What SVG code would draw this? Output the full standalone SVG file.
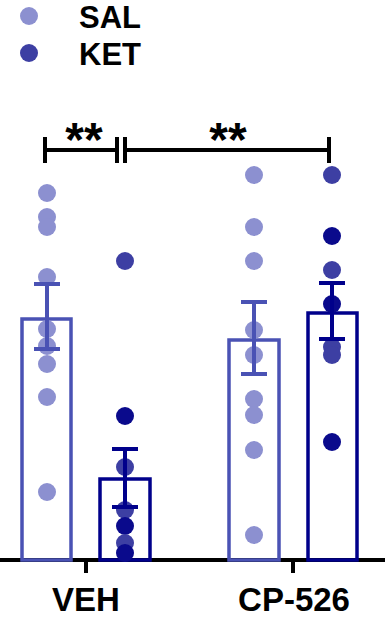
<svg xmlns="http://www.w3.org/2000/svg" width="385" height="621" viewBox="0 0 385 621">
<style>
.lbl{font-family:"Liberation Sans",Arial,sans-serif;font-weight:bold;fill:#000}
.sal{fill:#8c90d0}
.ketd{fill:#0a0a8c}
.keth{fill:#3d3fa3}
.barS{fill:none;stroke:#4a52b4;stroke-width:3.5}
.barK{fill:none;stroke:#00008b;stroke-width:3.5}
.errS{stroke:#4a52b4;stroke-width:4;fill:none}
.errK{stroke:#00008b;stroke-width:4;fill:none}
.blk{stroke:#000;stroke-width:4;fill:none}
</style>
<rect width="385" height="621" fill="#fff"/>
<g id="legend">
<circle class="sal" cx="29" cy="16" r="9"/>
<text class="lbl" x="79" y="28" font-size="31">SAL</text>
<circle class="keth" cx="29" cy="53" r="9"/>
<text class="lbl" x="79" y="65" font-size="31">KET</text>
</g>
<g id="axis">
<line class="blk" x1="0" y1="560" x2="385" y2="560" stroke-width="3.5"/>
<line class="blk" x1="86" y1="560" x2="86" y2="573" stroke-width="3"/>
<line class="blk" x1="293" y1="560" x2="293" y2="573" stroke-width="3"/>
<text class="lbl" x="86" y="611" font-size="33" text-anchor="middle">VEH</text>
<text class="lbl" x="294" y="611" font-size="33" text-anchor="middle">CP-526</text>
</g>
<g id="bar-veh-sal">
<rect class="barS" x="22" y="319" width="49" height="241"/>
<circle class="sal" cx="47" cy="193" r="9"/>
<circle class="sal" cx="47" cy="217" r="9"/>
<circle class="sal" cx="47" cy="227" r="9"/>
<circle class="sal" cx="47" cy="277" r="9"/>
<circle class="sal" cx="47" cy="329" r="9"/>
<circle class="sal" cx="47" cy="346" r="9"/>
<circle class="sal" cx="47" cy="364" r="9"/>
<circle class="sal" cx="47" cy="397" r="9"/>
<circle class="sal" cx="47" cy="492" r="9"/>
<path class="errS" d="M47 284V349M34 284H60M34 349H60"/>
</g>
<g id="bar-veh-ket">
<rect class="barK" x="100" y="479" width="50" height="81"/>
<circle class="keth" cx="125" cy="261" r="9"/>
<circle class="ketd" cx="125" cy="416" r="9"/>
<circle class="keth" cx="125" cy="467" r="9"/>
<circle class="keth" cx="125" cy="510" r="9"/>
<circle class="ketd" cx="125" cy="526" r="9"/>
<circle class="keth" cx="125" cy="543" r="9"/>
<circle class="ketd" cx="125" cy="553" r="9"/>
<path class="errK" d="M125 449V507M112 449H138M112 507H138"/>
</g>
<g id="bar-cp-sal">
<rect class="barS" x="229" y="340" width="50" height="220"/>
<circle class="sal" cx="254" cy="175" r="9"/>
<circle class="sal" cx="254" cy="227" r="9"/>
<circle class="sal" cx="254" cy="261" r="9"/>
<circle class="sal" cx="254" cy="330" r="9"/>
<circle class="sal" cx="254" cy="355" r="9"/>
<circle class="sal" cx="254" cy="399" r="9"/>
<circle class="sal" cx="254" cy="415" r="9"/>
<circle class="sal" cx="254" cy="450" r="9"/>
<circle class="sal" cx="254" cy="535" r="9"/>
<path class="errS" d="M254 302V374M241 302H267M241 374H267"/>
</g>
<g id="bar-cp-ket">
<rect class="barK" x="308" y="313" width="49" height="247"/>
<circle class="keth" cx="332" cy="175" r="9"/>
<circle class="ketd" cx="332" cy="236" r="9"/>
<circle class="keth" cx="332" cy="270" r="9"/>
<circle class="ketd" cx="332" cy="304" r="9"/>
<circle class="keth" cx="332" cy="347" r="9"/>
<circle class="keth" cx="332" cy="355" r="9"/>
<circle class="ketd" cx="332" cy="442" r="9"/>
<path class="errK" d="M332 283V339M319 283H345M319 339H345"/>
</g>
<g id="connectors">
<path class="blk" d="M45 137V163M117 137V163M45 150H117"/>
<path class="blk" d="M125 137V163M329 137V163M125 150H329"/>
<text class="lbl" x="84" y="156" font-size="48" text-anchor="middle">**</text>
<text class="lbl" x="228" y="156" font-size="48" text-anchor="middle">**</text>
</g>
</svg>
